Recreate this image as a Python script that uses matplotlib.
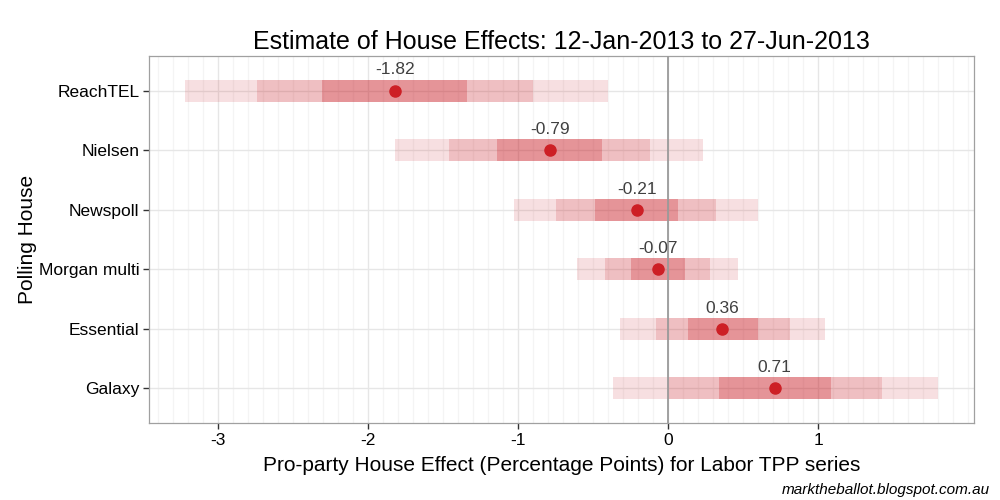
import numpy as np
import matplotlib
matplotlib.use("Agg")
import matplotlib.pyplot as plt
from matplotlib.ticker import MultipleLocator

plt.rcParams['font.family'] = ['Liberation Sans', 'DejaVu Sans']

# --- data ---
houses = ['Galaxy', 'Essential', 'Morgan multi', 'Newspoll', 'Nielsen', 'ReachTEL']
effect = [0.71, 0.36, -0.07, -0.21, -0.79, -1.82]
outer_lo = [-0.37, -0.32, -0.61, -1.03, -1.82, -3.22]
outer_hi = [1.80, 1.045, 0.465, 0.595, 0.23, -0.40]
mid_lo = [0.00, -0.08, -0.42, -0.75, -1.46, -2.74]
mid_hi = [1.425, 0.81, 0.28, 0.32, -0.12, -0.90]
inner_lo = [0.34, 0.13, -0.25, -0.49, -1.14, -2.31]
inner_hi = [1.085, 0.60, 0.11, 0.065, -0.44, -1.34]
x_ticks = [-3, -2, -1, 0, 1]

BASE = (200/255, 20/255, 30/255)
POINT = '#cd1f25'

fig = plt.figure(figsize=(10, 5), dpi=100)
ax = fig.add_axes([0.149, 0.154, 0.825, 0.734])

y = np.arange(len(houses))
h = 0.37

# gridlines
ax.xaxis.set_minor_locator(MultipleLocator(0.1))
ax.grid(which='minor', axis='x', color='#f4f4f4', lw=0.9, zorder=0)
ax.grid(which='major', axis='both', color='#e6e6e6', lw=1.0, zorder=0)
ax.set_axisbelow(True)

# nested interval bands (alpha stacked)
for lo, hi, a in [(outer_lo, outer_hi, 0.135), (mid_lo, mid_hi, 0.156), (inner_lo, inner_hi, 0.25)]:
    ax.barh(y, np.array(hi) - np.array(lo), left=lo, height=h,
            color=BASE, alpha=a, lw=0, zorder=2)

ax.axvline(0, color='#9a9a9a', lw=1.3, zorder=3)

ax.plot(effect, y, 'o', color=POINT, ms=8, zorder=4)
for xi, yi in zip(effect, y):
    ax.text(xi, yi + 0.22, f'{xi:.2f}', ha='center', va='bottom',
            fontsize=12.5, color='#404040', zorder=5)

ax.set_xlim(-3.462, 2.038)
ax.set_ylim(-0.58, 5.58)
ax.set_xticks(x_ticks)
ax.set_xticklabels([str(t) for t in x_ticks])
ax.set_yticks(y)
ax.set_yticklabels(houses)
ax.tick_params(axis='both', which='major', length=4, width=1, color='#333333',
               labelsize=12.5, labelcolor='black', pad=3)
ax.tick_params(axis='x', which='minor', length=0)
for s in ax.spines.values():
    s.set_color('#a0a0a0')
    s.set_linewidth(0.9)

ax.set_title('Estimate of House Effects: 12-Jan-2013 to 27-Jun-2013',
             fontsize=18, pad=5)
ax.set_xlabel('Pro-party House Effect (Percentage Points) for Labor TPP series',
              fontsize=15, labelpad=6)
ax.set_ylabel('Polling House', fontsize=15, labelpad=1)

fig.text(0.99, 0.006, 'marktheballot.blogspot.com.au', ha='right', va='bottom',
         fontsize=11, style='italic')

fig.savefig('out.png', dpi=100)
